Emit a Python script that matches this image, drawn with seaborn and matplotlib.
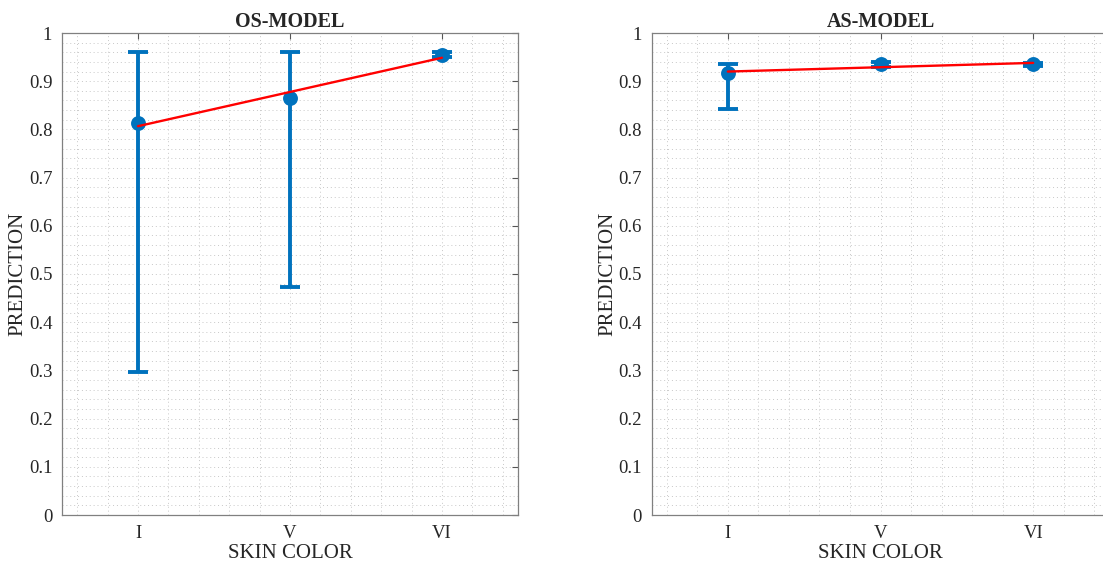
import matplotlib
matplotlib.use("Agg")
import matplotlib.pyplot as plt
from matplotlib.ticker import MultipleLocator
import numpy as np
import pandas as pd
import seaborn as sns

# skin colour groups (Fitzpatrick type) and positions on the x axis
skin_labels = ["I", "V", "VI"]
skin_pos = [1, 2, 3]

# mean prediction and min / max range per group
os_mean = [0.813, 0.865, 0.955]
os_low = [0.297, 0.472, 0.951]
os_high = [0.960, 0.960, 0.960]

as_mean = [0.917, 0.935, 0.935]
as_low = [0.842, 0.930, 0.932]
as_high = [0.935, 0.940, 0.938]

panel_titles = ["OS-MODEL", "AS-MODEL"]

BLUE = "#0072BD"
RED = "#FF0000"
TXT = "#262626"

sns.set_theme(style="white")
plt.rcParams["font.family"] = ["Liberation Serif", "DejaVu Serif"]
plt.rcParams["text.color"] = TXT
plt.rcParams["axes.labelcolor"] = TXT
plt.rcParams["xtick.color"] = TXT
plt.rcParams["ytick.color"] = TXT


def draw_panel(ax, mean, low, high, title):
    df = pd.DataFrame({"x": skin_pos, "y": mean})
    mean = np.array(mean)
    yerr = [mean - np.array(low), np.array(high) - mean]
    ax.errorbar(df["x"], df["y"], yerr=yerr, fmt="none", ecolor=BLUE,
                elinewidth=2.8, capsize=7, capthick=2.8, zorder=2)
    sns.scatterplot(data=df, x="x", y="y", ax=ax, color=BLUE, s=115,
                    edgecolor=BLUE, linewidth=0, zorder=3)
    sns.regplot(data=df, x="x", y="y", ax=ax, scatter=False, ci=None,
                truncate=True, line_kws={"color": RED, "lw": 1.7, "zorder": 4})

    ax.set_xlim(0.5, 3.5)
    ax.set_ylim(0, 1)
    ax.set_xticks(skin_pos)
    ax.set_xticklabels(skin_labels)
    ax.set_yticks(np.arange(0, 1.01, 0.1))
    ax.set_yticklabels(["0"] + [f"{v:.1f}" for v in np.arange(0.1, 0.95, 0.1)] + ["1"])
    ax.xaxis.set_minor_locator(MultipleLocator(0.2))
    ax.yaxis.set_minor_locator(MultipleLocator(0.02))
    ax.tick_params(which="major", direction="in", length=4, width=0.8,
                   top=True, right=True, labelsize=13.5, color="#555555", pad=7)
    ax.tick_params(which="minor", length=0)
    ax.grid(which="both", linestyle=(0, (1, 3)), color="#c8c8c8", linewidth=0.7)
    ax.set_axisbelow(True)
    for sp in ax.spines.values():
        sp.set_color("#808080")
        sp.set_linewidth(0.9)
    ax.set_xlabel("SKIN COLOR", fontsize=15, labelpad=2)
    ax.set_ylabel("PREDICTION", fontsize=15)
    ax.yaxis.set_label_coords(-0.075, 0.5)
    ax.set_title(title, fontsize=14.5, fontweight="bold", pad=4)


fig = plt.figure(figsize=(11.03, 5.63), dpi=100)
ax1 = fig.add_axes([62 / 1103, 48 / 563, 456 / 1103, 482 / 563])
ax2 = fig.add_axes([651.5 / 1103, 48 / 563, 458 / 1103, 482 / 563])

draw_panel(ax1, os_mean, os_low, os_high, panel_titles[0])
draw_panel(ax2, as_mean, as_low, as_high, panel_titles[1])

fig.savefig("out.png", dpi=100, facecolor="white")
